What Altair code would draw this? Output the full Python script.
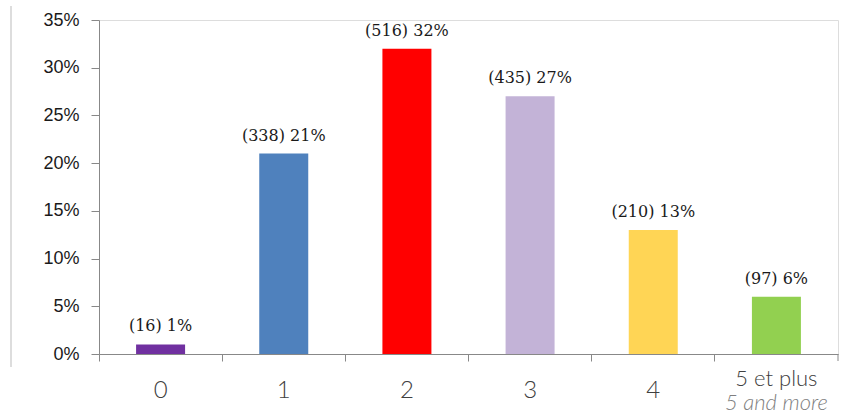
import altair as alt
import pandas as pd

categories = ["0", "1", "2", "3", "4", "5 et plus"]
counts = [16, 338, 516, 435, 210, 97]
shares = [0.01, 0.21, 0.32, 0.27, 0.13, 0.06]
colors = ["#7030A0", "#4F81BD", "#FF0000", "#C3B3D7", "#FFD555", "#92D050"]
extra_label = "5 and more"

df = pd.DataFrame({
    "cat": categories,
    "count": counts,
    "share": shares,
    "color": colors,
})
df["label"] = ["(%d) %d%%" % (c, round(s * 100)) for c, s in zip(counts, shares)]

W, H = 739, 334

x = alt.X("cat:N", sort=categories,
          scale=alt.Scale(paddingInner=0, paddingOuter=0),
          axis=alt.Axis(title=None, labelAngle=0, bandPosition=0,
                        labelExpr="datum.label == '5 et plus' ? '' : datum.label",
                        labelFont="Lato", labelFontWeight=300, labelFontSize=24,
                        labelColor="#404040", labelBaseline="alphabetic",
                        labelPadding=36, tickSize=7, tickColor="#888888",
                        domainColor="#888888", ticks=True, grid=False))
y = alt.Y("share:Q", scale=alt.Scale(domain=[0, 0.35]),
          axis=alt.Axis(title=None, format=".0%", values=[0, 0.05, 0.1, 0.15, 0.2, 0.25, 0.3, 0.35],
                        labelFont="Liberation Sans", labelFontSize=18, labelColor="#1a1a1a",
                        labelPadding=12, tickSize=8, tickColor="#888888",
                        domainColor="#888888", grid=False))

base = alt.Chart(df)

bars = base.mark_bar(size=49).encode(
    x=x, y=y, color=alt.Color("color:N", scale=None)
)

labels = base.mark_text(font="DejaVu Serif", fontSize=16, baseline="alphabetic",
                        dy=-13, color="#1a1a1a").encode(
    x=alt.X("cat:N", sort=categories), y="share:Q", text="label:N"
)

last = pd.DataFrame({"cat": [categories[-1]], "l1": [categories[-1]], "l2": [extra_label]})
last_l1 = alt.Chart(last).mark_text(font="Lato", fontWeight=300, fontSize=22,
                                    color="#404040", baseline="alphabetic").encode(
    x=alt.X("cat:N", sort=categories), y=alt.value(H + 32), text="l1:N"
)
last_l2 = alt.Chart(last).mark_text(font="Lato", fontWeight=300, fontSize=22, fontStyle="italic",
                                    color="#7F7F7F", baseline="alphabetic").encode(
    x=alt.X("cat:N", sort=categories), y=alt.value(H + 56), text="l2:N"
)

end_tick = alt.Chart(last).mark_rule(color="#888888").encode(
    x=alt.value(W), y=alt.value(H), y2=alt.value(H + 7)
)
frame_line = alt.Chart(last).mark_rule(color="#BBBBBB").encode(
    x=alt.value(-88), y=alt.value(-14), y2=alt.value(347)
)

chart = alt.layer(bars, labels, last_l1, last_l2, end_tick, frame_line).properties(
    width=W, height=H,
    autosize=alt.AutoSizeParams(type="none"),
    padding={"left": 99, "top": 20, "right": 11, "bottom": 61},
).configure_view(stroke=None).configure(background="white")

chart.save("out.html", embed_options={"renderer": "svg", "actions": False})
